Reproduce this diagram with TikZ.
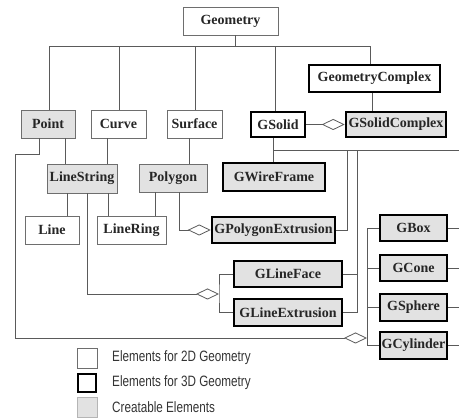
\documentclass[tikz,border=0pt]{standalone}
\usepackage{fontspec}
\setmainfont{Liberation Serif}
\newfontfamily\legendfont[FakeStretch=0.78]{Liberation Sans}
\usetikzlibrary{arrows.meta}
\definecolor{boxgray}{HTML}{6E6E6E}
\definecolor{linegray}{HTML}{5A5A5A}
\definecolor{fillgray}{HTML}{E2E2E2}
\begin{document}
\begin{tikzpicture}[x=1pt,y=-1pt,
  base/.style={inner sep=0pt, minimum height=28pt, font=\fontsize{14}{14}\selectfont\bfseries, text=black!85},
  twod/.style={base, draw=boxgray, line width=0.9pt, fill=white},
  threed/.style={base, draw=black, line width=2.6pt, fill=white},
  creat/.style={fill=fillgray},
  conn/.style={draw=linegray, line width=0.8pt},
  agg/.style={conn, -{Diamond[open, length=23pt, width=11pt]}},
  legtext/.style={anchor=west, inner sep=0pt, font=\legendfont\fontsize{15}{15}\selectfont, text=black!80}
]
\useasboundingbox (0,0) rectangle (459,419);
% nodes
\node[twod, minimum width=95pt] (geometry) at (230.5,21) {Geometry};
\node[twod, creat, minimum width=54pt] (point) at (48,124) {Point};
\node[twod, minimum width=55pt] (curve) at (118.5,124) {Curve};
\node[twod, minimum width=55pt] (surface) at (194.5,124) {Surface};
\node[threed, minimum width=54pt, minimum height=25pt] (gsolid) at (278,124.5) {GSolid};
\node[threed, minimum width=131pt, minimum height=27pt] (gcomplex) at (374.5,78.5) {GeometryComplex};
\node[threed, creat, minimum width=100pt, minimum height=25pt] (gsolidc) at (396,124.5) {GSolidComplex};
\node[twod, creat, minimum width=70pt, minimum height=29pt] (linestring) at (82,178.5) {LineString};
\node[twod, creat, minimum width=68pt] (polygon) at (173,178) {Polygon};
\node[threed, creat, minimum width=102pt] (gwire) at (274,177) {GWireFrame};
\node[twod, minimum width=54pt] (line) at (52,230) {Line};
\node[twod, minimum width=69pt] (linering) at (131.5,230) {LineRing};
\node[threed, creat, minimum width=123pt, minimum height=26pt] (gpolyext) at (273.5,230) {GPolygonExtrusion};
\node[threed, creat, minimum width=108pt, minimum height=26pt] (glineface) at (288,274) {GLineFace};
\node[threed, creat, minimum width=108pt, minimum height=27pt] (glineext) at (288,312.5) {GLineExtrusion};
\node[threed, creat, minimum width=67pt, minimum height=26pt] (gbox) at (413.5,228) {GBox};
\node[threed, creat, minimum width=67pt, minimum height=26pt] (gcone) at (413.5,268) {GCone};
\node[threed, creat, minimum width=67pt, minimum height=27pt] (gsphere) at (413.5,307.5) {GSphere};
\node[threed, creat, minimum width=67pt, minimum height=27pt] (gcyl) at (413.5,345.5) {GCylinder};
% free-end coordinates
\coordinate (bus) at (235,46);
\coordinate (lfjoin) at (219,294);
\coordinate (gbjoin) at (367,338);
\coordinate (solidbus) at (273,150);
\coordinate (edgeA) at (459,150);
% Geometry hierarchy
\draw[conn] (geometry.south -| bus) -- (bus);
\draw[conn] (point.north -| 49,0) -- (49,46) -- (370,46) -- (gcomplex.north -| 370,0);
\draw[conn] (curve.north -| 119,0) -- (119,46);
\draw[conn] (surface.north -| 195,0) -- (195,46);
\draw[conn] (gsolid.north -| 275,0) -- (275,46);
% 2D hierarchy
\draw[conn] (point.south -| 65,0) -- (linestring.north -| 65,0);
\draw[conn] (curve.south -| 107,0) -- (linestring.north -| 107,0);
\draw[conn] (surface.south -| 189,0) -- (polygon.north -| 189,0);
\draw[conn] (linestring.south -| 67,0) -- (line.north -| 67,0);
\draw[conn] (linestring.south -| 108,0) -- (linering.north -| 108,0);
\draw[conn] (polygon.south -| 155,0) -- (linering.north -| 155,0);
% aggregations
\draw[agg] (polygon.south -| 179,0) |- (gpolyext.west);
\draw[agg] (linestring.south -| 87,0) |- (lfjoin);
\draw[conn] (glineface.west) -| (lfjoin) |- (glineext.west);
\draw[agg] (point.south -| 39,0) -- (39,154) -- (15,154) |- (gbjoin);
\draw[conn] (gbox.west) -- (gbox.west -| gbjoin) -- (gcyl.west -| gbjoin) -- (gcyl.west);
\draw[conn] (gcone.west) -- (gcone.west -| gbjoin);
\draw[conn] (gsphere.west) -- (gsphere.west -| gbjoin);
\draw[agg] (gsolid.east) -- (gsolidc.west);
% 3D hierarchy
\draw[conn] (gcomplex.south -| 372,0) -- (gsolidc.north -| 372,0);
\draw[conn] (gsolid.south -| solidbus) -- (gwire.north -| solidbus);
\draw[conn] (solidbus) -- (edgeA);
\draw[conn] (gpolyext.east) -| (347,150);
\draw[conn] (glineext.east) -| (357,150);
\draw[conn] (glineface.east) -- (glineface.east -| 357,0);
\draw[conn] (gbox.east) -- (gbox.east -| 459,0);
\draw[conn] (gcone.east) -- (gcone.east -| 459,0);
\draw[conn] (gsphere.east) -- (gsphere.east -| 459,0);
\draw[conn] (gcyl.east) -- (gcyl.east -| 459,0);
% legend
\node[twod, minimum width=20pt, minimum height=20pt] (leg2d) at (87,358) {};
\node[threed, minimum width=18pt, minimum height=18pt] (leg3d) at (87,383) {};
\node[twod, creat, draw=fillgray!80!black, minimum width=20pt, minimum height=20pt] (legcr) at (87,407) {};
\node[legtext] (t2d) at (112,358) {Elements for 2D Geometry};
\node[legtext] (t3d) at (112,383) {Elements for 3D Geometry};
\node[legtext] (tcr) at (112,407) {Creatable Elements};
\end{tikzpicture}
\end{document}
